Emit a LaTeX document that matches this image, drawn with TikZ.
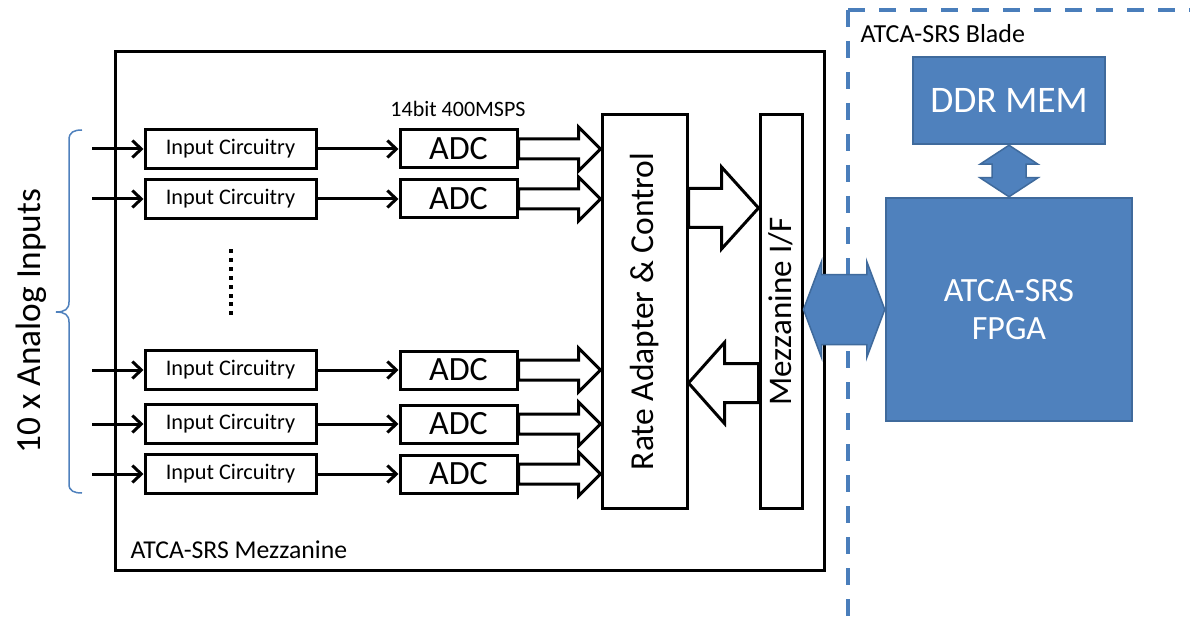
\documentclass[tikz,border=0pt]{standalone}
\usepackage{fontspec}
\setmainfont{Carlito}
\usetikzlibrary{arrows.meta,calc}
\definecolor{boxblue}{HTML}{4F81BD}
\definecolor{edgeblue}{HTML}{3F6A9C}
\definecolor{dashblue}{HTML}{4A7EBB}

% single block arrow: style, tail, tip, shaft half-width, head half-width, head length
\newcommand\blockarrow[6]{%
  \path #2 coordinate (ba-t) #3 coordinate (ba-h);
  \coordinate (ba-p) at ($(ba-h)!#6pt!(ba-t)$);
  \draw[#1] ($(ba-t)!#4pt!90:(ba-h)$) -- ($(ba-p)!#4pt!90:(ba-h)$)
    -- ($(ba-p)!#5pt!90:(ba-h)$) -- (ba-h) -- ($(ba-p)!#5pt!-90:(ba-h)$)
    -- ($(ba-p)!#4pt!-90:(ba-h)$) -- ($(ba-t)!#4pt!-90:(ba-h)$) -- cycle;}

% double-headed block arrow: style, end A, end B, shaft half-width, head half-width, head length
\newcommand\dblockarrow[6]{%
  \path #2 coordinate (da-a) #3 coordinate (da-b);
  \coordinate (da-p) at ($(da-a)!#6pt!(da-b)$);
  \coordinate (da-q) at ($(da-b)!#6pt!(da-a)$);
  \draw[#1] (da-a) -- ($(da-p)!#5pt!90:(da-b)$) -- ($(da-p)!#4pt!90:(da-b)$)
    -- ($(da-q)!#4pt!-90:(da-a)$) -- ($(da-q)!#5pt!-90:(da-a)$) -- (da-b)
    -- ($(da-q)!#5pt!90:(da-a)$) -- ($(da-q)!#4pt!90:(da-a)$)
    -- ($(da-p)!#4pt!-90:(da-b)$) -- ($(da-p)!#5pt!-90:(da-b)$) -- cycle;}

\begin{document}
\begin{tikzpicture}[x=1pt,y=-1pt,
  blk/.style={draw=black, line width=3pt, fill=white, inner sep=0pt},
  icbox/.style={blk, minimum width=171pt, minimum height=39pt, font=\fontsize{22.3}{26}\selectfont},
  adcbox/.style={blk, minimum width=117pt, minimum height=38pt, font=\fontsize{34}{40}\selectfont},
  wire/.style={line width=3pt, -{Straight Barb[length=9pt,width=17pt]}},
  hollow/.style={draw=black, line width=3pt, fill=white, line join=miter},
  bluebox/.style={draw=edgeblue, line width=2.5pt, fill=boxblue, text=white, inner sep=0pt, align=center},
  bluearrow/.style={draw=edgeblue, line width=1.5pt, fill=boxblue, line join=miter},
  small/.style={font=\fontsize{22}{26}\selectfont},
  big/.style={font=\fontsize{33.5}{40}\selectfont},
]
\useasboundingbox (0,0) rectangle (1190,620);
\clip (0,0) rectangle (1190,620);
\fill[white] (0,0) rectangle (1190,620);

% blade outline (dashed, runs off the page)
\draw[dashblue, line width=4pt, dash pattern=on 17pt off 14pt] (848,10) -- (1200,10);
\draw[dashblue, line width=4pt, dash pattern=on 17pt off 14pt] (848,10) -- (848,630);
\node[font=\fontsize{26}{30}\selectfont, anchor=west] (bladelbl) at (857,34) {ATCA-SRS Blade};

% mezzanine outline
\node[draw=black, line width=3pt, minimum width=709pt, minimum height=518pt, inner sep=0pt]
  (mezz) at (469.5,311) {};
\node[font=\fontsize{25.7}{30}\selectfont, anchor=west] (mezzlbl) at (127,550) {ATCA-SRS Mezzanine};

% input chains
\foreach \r/\y in {1/149, 2/199, 3/370, 4/424, 5/474} {
  \coordinate (in\r) at (92,\y);
  \node[icbox] (ic\r) at (230.5,\y) {Input Circuitry};
  \node[adcbox] (adc\r) at (458.5,\y) {ADC};
  \draw[wire] (in\r) -- (ic\r);
  \draw[wire] (ic\r) -- (adc\r);
}
\node[small] (spec) at (458,109) {14bit 400MSPS};

% vertical ellipsis between the channel groups
\foreach \i in {0,...,7} \fill (229,249+\i*8.9) rectangle +(4,4);

% brace and label for the analog inputs
\draw[boxblue, line width=1.5pt]
  (82,130) .. controls (74,130) and (69,132) .. (69,140) -- (69,302)
  .. controls (69,309) and (65,312) .. (56,312)
  .. controls (65,312) and (69,315) .. (69,322) -- (69,484)
  .. controls (69,491) and (74,493) .. (82,493);
\node[rotate=90, font=\fontsize{35.3}{42}\selectfont] (inlbl) at (31,321) {10 x Analog Inputs};

% rate adapter and mezzanine interface
\node[blk, minimum width=85pt, minimum height=393pt] (ra) at (644.5,311.5) {};
\node[big, rotate=90] (ralbl) at (ra.center) {Rate Adapter \& Control};
\node[blk, minimum width=42pt, minimum height=393pt] (mif) at (781,311.5) {};
\node[font=\fontsize{33}{40}\selectfont, rotate=90] (miflbl) at (mif.center) {Mezzanine I/F};

% ADC data buses
\foreach \r in {1,...,5}
  \blockarrow{hollow}{(adc\r.east)}{(ra.west |- adc\r.east)}{10}{22}{22};

% buses between rate adapter and interface
\coordinate (busout) at (720,208);
\coordinate (busin) at (720,383);
\blockarrow{hollow}{(ra.east |- busout)}{(mif.west |- busout)}{19.5}{41}{37}
\blockarrow{hollow}{(mif.west |- busin)}{(ra.east |- busin)}{19.5}{40.5}{36}

% blade blocks
\node[bluebox, minimum width=192pt, minimum height=87pt, font=\fontsize{37.5}{44}\selectfont]
  (ddr) at (1009,100.5) {DDR MEM};
\node[bluebox, minimum width=246pt, minimum height=223pt, font=\fontsize{34}{40}\selectfont]
  (fpga) at (1009,309.5) {ATCA-SRS\\[-2pt]FPGA};

\dblockarrow{bluearrow}{(ddr.south)}{(fpga.north)}{17}{29}{19}
\dblockarrow{bluearrow}{(mif.east |- fpga.west)}{(fpga.west)}{35}{48}{18}
\end{tikzpicture}
\end{document}
